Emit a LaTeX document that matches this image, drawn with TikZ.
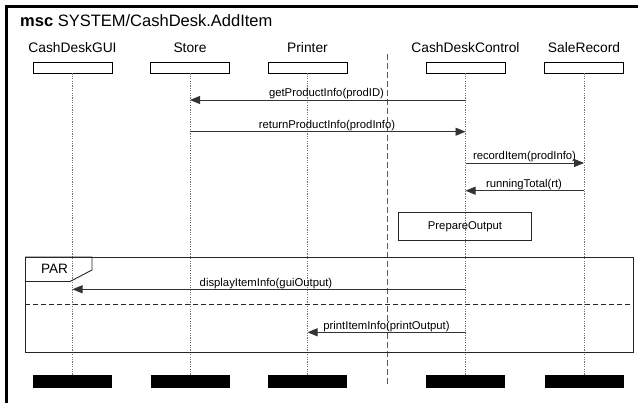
\documentclass[tikz,border=0pt]{standalone}
\usepackage{fontspec}
\setmainfont{Liberation Sans}
\usetikzlibrary{arrows.meta}
\begin{document}
\begin{tikzpicture}[x=1pt,y=-1pt,
  lname/.style={anchor=base,inner sep=0pt,font=\fontsize{13.8}{16}\selectfont},
  headbox/.style={draw=black,line width=0.9pt,minimum width=79pt,minimum height=11pt,inner sep=0pt},
  endbar/.style={fill=black,draw=none,minimum width=79pt,minimum height=13pt,inner sep=0pt},
  lifeline/.style={draw=black!55,line width=0.8pt,dash pattern=on 1.2pt off 1.2pt},
  msg/.style={draw=black!80,line width=0.9pt,-{Triangle[length=10pt,width=8pt]}},
  mlabel/.style={anchor=base,inner sep=0pt,font=\fontsize{11.3}{13}\selectfont},
  parline/.style={draw=black!85,line width=0.9pt}]
\useasboundingbox (0,0) rectangle (638,403);

% outer msc frame (only left and top edges visible)
\draw[line width=3pt] (6.5,403) -- (6.5,6.5) -- (638,6.5);
\node[anchor=base west,inner sep=0pt,font=\fontsize{16.5}{19}\selectfont] (title) at (20,27)
  {\textbf{msc} SYSTEM/CashDesk.AddItem};

% instance heads
\node[lname] (guiN)   at (72.5,53)  {CashDeskGUI};
\node[lname] (storeN) at (190,53)   {Store};
\node[lname] (prnN)   at (307.5,53) {Printer};
\node[lname] (ctrlN)  at (465.5,53) {CashDeskControl};
\node[lname] (saleN)  at (584,53)   {SaleRecord};

\node[headbox] (gui)   at (72.5,67.5)  {};
\node[headbox] (store) at (190,67.5)   {};
\node[headbox] (prn)   at (307.5,67.5) {};
\node[headbox] (ctrl)  at (465.5,67.5) {};
\node[headbox] (sale)  at (584,67.5)   {};

% instance ends
\node[endbar] (guiE)   at (72.5,381.5)  {};
\node[endbar] (storeE) at (190,381.5)   {};
\node[endbar] (prnE)   at (307.5,381.5) {};
\node[endbar] (ctrlE)  at (465.5,381.5) {};
\node[endbar] (saleE)  at (584,381.5)   {};

% lifelines
\draw[lifeline] (gui.south) -- (guiE.north);
\draw[lifeline] (store.south) -- (storeE.north);
\draw[lifeline] (prn.south) -- (prnE.north);
\draw[lifeline] (ctrl.south) -- (ctrlE.north);
\draw[lifeline] (sale.south) -- (saleE.north);

% system boundary
\coordinate (bTop) at (387,54);
\coordinate (bBot) at (387,384);
\draw[draw=black!65,line width=0.9pt,dash pattern=on 6pt off 3pt] (bTop) -- (bBot);

% message rows
\coordinate (r1) at (0,100);
\coordinate (r2) at (0,131.7);
\coordinate (r3) at (0,163);
\coordinate (r4) at (0,190.7);
\coordinate (r6) at (0,289.3);
\coordinate (r7) at (0,332.3);

\draw[msg] (ctrl |- r1) -- (store |- r1);
\node[mlabel] (l1) at (326.5,97) {getProductInfo(prodID)};
\draw[msg] (store |- r2) -- (ctrl |- r2);
\node[mlabel] (l2) at (327,128.7) {returnProductInfo(prodInfo)};
\draw[msg] (ctrl |- r3) -- (sale |- r3);
\node[mlabel] (l3) at (524.5,160) {recordItem(prodInfo)};
\draw[msg] (sale |- r4) -- (ctrl |- r4);
\node[mlabel] (l4) at (524,187.7) {runningTotal(rt)};

% local action
\node[draw=black!85,line width=0.9pt,minimum width=133pt,minimum height=27.5pt,inner sep=0pt,
  font=\fontsize{11.3}{13}\selectfont] (prep) at (465,226.5) {PrepareOutput};

% parallel frame
\draw[parline] (25,257) rectangle (633,352);
\draw[parline] (25,257) -- (92,257) -- (92,270) -- (70,281.5) -- (25,281.5);
\node[inner sep=0pt,font=\fontsize{13.6}{16}\selectfont] (par) at (54.5,269) {PAR};
\coordinate (sepL) at (25,304.3);
\coordinate (sepR) at (633,304.3);
\draw[draw=black!85,line width=0.9pt,dash pattern=on 5pt off 3pt] (sepL) -- (sepR);

\draw[msg] (ctrl |- r6) -- (gui |- r6);
\node[mlabel] (l6) at (266,286.3) {displayItemInfo(guiOutput)};
\draw[msg] (ctrl |- r7) -- (prn |- r7);
\node[mlabel] (l7) at (386.5,329.3) {printItemInfo(printOutput)};
\end{tikzpicture}
\end{document}
